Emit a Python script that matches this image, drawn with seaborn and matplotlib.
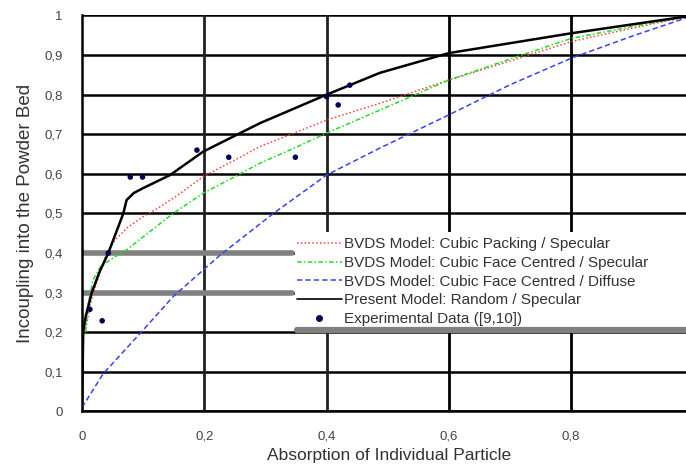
import matplotlib
matplotlib.use('Agg')
import numpy as np
import pandas as pd
import matplotlib.pyplot as plt
import seaborn as sns
from matplotlib.patches import Rectangle
from matplotlib.lines import Line2D
from matplotlib.ticker import FuncFormatter

# --- Data ---
black_x = [0, 0.002, 0.006, 0.016, 0.028, 0.043, 0.0676, 0.073, 0.085, 0.1, 0.144, 0.198,
           0.291, 0.4, 0.487, 0.6, 0.8, 1.0]
black_y = [0, 0.2, 0.24, 0.30, 0.35, 0.40, 0.50, 0.534, 0.552, 0.564, 0.597, 0.656,
           0.728, 0.80, 0.855, 0.905, 0.955, 1.0]

red_x = [0.005, 0.01, 0.015, 0.025, 0.04, 0.054, 0.075, 0.1, 0.128, 0.16, 0.198, 0.25,
         0.291, 0.35, 0.4, 0.487, 0.6, 0.7, 0.8, 0.9, 1.0]
red_y = [0.2, 0.24, 0.28, 0.33, 0.40, 0.433, 0.465, 0.492, 0.517, 0.55, 0.593, 0.635,
         0.669, 0.705, 0.736, 0.778, 0.837, 0.885, 0.934, 0.968, 1.0]

green_x = [0.006, 0.01, 0.018, 0.03, 0.046, 0.073, 0.1, 0.149, 0.198, 0.25, 0.291, 0.35,
           0.4, 0.487, 0.6, 0.7, 0.8, 0.9, 1.0]
green_y = [0.2, 0.27, 0.332, 0.365, 0.383, 0.408, 0.441, 0.5, 0.551, 0.593, 0.627, 0.667,
           0.703, 0.761, 0.837, 0.89, 0.942, 0.972, 1.0]

blue_x = [0, 0.0077, 0.035, 0.095, 0.149, 0.226, 0.313, 0.4, 0.487, 0.6, 0.7, 0.8, 0.9, 1.0]
blue_y = [0.01, 0.029, 0.096, 0.197, 0.29, 0.395, 0.5, 0.597, 0.665, 0.749, 0.825, 0.892,
          0.948, 1.0]

exp_x = [0.013, 0.033, 0.043, 0.079, 0.099, 0.188, 0.24, 0.349, 0.40, 0.419, 0.438]
exp_y = [0.258, 0.229, 0.40, 0.592, 0.592, 0.66, 0.642, 0.642, 0.795, 0.774, 0.824]

labels = ['BVDS Model: Cubic Packing / Specular',
          'BVDS Model: Cubic Face Centred / Specular',
          'BVDS Model: Cubic Face Centred / Diffuse',
          'Present Model: Random / Specular',
          'Experimental Data ([9,10])']

xticks = [0, 0.2, 0.4, 0.6, 0.8]
yticks = [0, 0.1, 0.2, 0.3, 0.4, 0.5, 0.6, 0.7, 0.8, 0.9, 1.0]

# --- Plot ---
sns.set_style('white')
plt.rcParams['font.family'] = ['Liberation Sans', 'DejaVu Sans']

fig = plt.figure(figsize=(6.86, 4.66), dpi=100)
# x=1 sits just past the right edge of the picture, as in the reference
ax = fig.add_axes([0.1195, 0.117, 0.8914, 0.8498])

ax.set_xlim(0, 1)
ax.set_ylim(0, 1)
ax.set_xticks(xticks)
ax.set_yticks(yticks)
comma = FuncFormatter(lambda v, p: ('%g' % round(v, 2)).replace('.', ','))
ax.xaxis.set_major_formatter(comma)
ax.yaxis.set_major_formatter(comma)

# grid
for v in yticks:
    ax.axhline(v, color='black', lw=1.8, zorder=1)
for v in xticks[1:]:
    ax.axvline(v, color='#222222' if v < 0.5 else 'black', lw=2.0, zorder=1)
# grey grid artefacts
ax.axhline(0.4, xmin=0, xmax=0.343, color='#808080', lw=4, zorder=1.5)
ax.axhline(0.3, xmin=0, xmax=0.343, color='#808080', lw=4, zorder=1.5)

sns.lineplot(x=red_x, y=red_y, ax=ax, color='#ff4040', lw=1.1, linestyle=(0, (1, 1.5)),
             sort=False, zorder=3)
sns.lineplot(x=green_x, y=green_y, ax=ax, color='#22dd22', lw=1.1,
             linestyle=(0, (3, 1.5, 1, 1.5)), sort=False, zorder=3)
sns.lineplot(x=blue_x, y=blue_y, ax=ax, color='#3344ff', lw=1.1, linestyle=(0, (3.5, 2)),
             sort=False, zorder=3)
sns.lineplot(x=black_x, y=black_y, ax=ax, color='black', lw=1.8, sort=False, zorder=4)
sns.scatterplot(x=exp_x, y=exp_y, ax=ax, color='#000055', s=16, edgecolor='none', zorder=5)

# legend box covering the grid
ax.add_patch(Rectangle((0.348, 0.206), 0.7, 0.247, transform=ax.transData,
                       facecolor='white', edgecolor='none', zorder=6))
ax.axhline(0.205, xmin=0.352, xmax=1, color='#808080', lw=4.5, zorder=7)

handles = [Line2D([], [], color='#ff4040', lw=1.1, linestyle=(0, (1, 1.5))),
           Line2D([], [], color='#22dd22', lw=1.1, linestyle=(0, (3, 1.5, 1, 1.5))),
           Line2D([], [], color='#3344ff', lw=1.1, linestyle=(0, (3.5, 2))),
           Line2D([], [], color='black', lw=1.2),
           Line2D([], [], color='#000055', marker='o', markersize=4, lw=0)]
leg = ax.legend(handles, labels, loc='upper left', bbox_to_anchor=(0.352, 0.44),
                frameon=False, fontsize=11, handlelength=2.9, handletextpad=0.15,
                labelspacing=0.31, borderpad=0.0, borderaxespad=0)
leg.set_zorder(8)
for t in leg.get_texts():
    t.set_color('#333333')

for s in ['top', 'right']:
    ax.spines[s].set_visible(False)
for s in ['left', 'bottom']:
    ax.spines[s].set_color('black')
    ax.spines[s].set_linewidth(1.8)
    ax.spines[s].set_zorder(2)

ax.tick_params(axis='both', direction='out', length=5, width=1.5, color='black',
               labelsize=9.5, labelcolor='#444444', pad=9)
ax.set_xlabel('Absorption of Individual Particle', fontsize=12.5, color='#333333')
ax.set_ylabel('Incoupling into the Powder Bed', fontsize=13.5, color='#333333')
ax.xaxis.set_label_coords(0.502, -0.093)
ax.yaxis.set_label_coords(-0.078, 0.5)

fig.savefig('out.png', dpi=100)
plt.close(fig)
